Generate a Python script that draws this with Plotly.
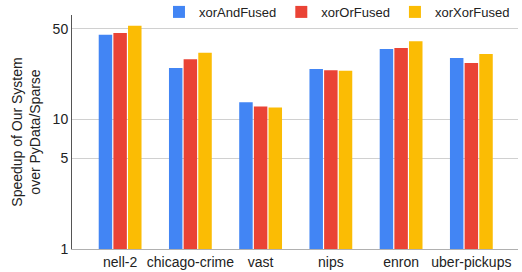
import plotly.graph_objects as go

categories = ["nell-2", "chicago-crime", "vast", "nips", "enron", "uber-pickups"]
xor_and_fused = [45.2, 25.0, 13.6, 24.5, 35.0, 29.8]
xor_or_fused = [46.6, 29.2, 12.6, 24.0, 35.7, 27.3]
xor_xor_fused = [53.0, 32.8, 12.4, 23.8, 40.2, 32.0]
series_names = ["xorAndFused", "xorOrFused", "xorXorFused"]
colors = ["#4285F4", "#EA4335", "#FBBC04"]
y_ticks = [1, 5, 10, 50]

fig = go.Figure()
for name, vals, c in zip(series_names, [xor_and_fused, xor_or_fused, xor_xor_fused], colors):
    fig.add_trace(go.Bar(x=categories, y=vals, name=name, marker=dict(color=c, line=dict(width=0))))

font = "Liberation Sans, Arial, sans-serif"
fig.update_layout(
    width=522, height=272,
    margin=dict(l=72, r=4, t=15, b=23, autoexpand=False),
    plot_bgcolor="white", paper_bgcolor="white",
    barmode="group", bargap=0.374, bargroupgap=0.08,
    font=dict(family=font, size=14, color="#222222"),
    legend=dict(orientation="h", x=0.195, xanchor="left", y=1.013, yanchor="middle",
                font=dict(size=13, color="#222222"), bgcolor="rgba(0,0,0,0)"),
    xaxis=dict(type="category", range=[-0.685, 5.664], showline=True, linecolor="#b0b0b0",
               linewidth=1, showgrid=False, ticks="", tickfont=dict(size=14), automargin=False),
    yaxis=dict(type="log", range=[0, 1.807], tickvals=y_ticks, ticktext=[str(v) for v in y_ticks],
               showgrid=True, gridcolor="#d0d0d0", gridwidth=1, showline=True, linecolor="#555555",
               linewidth=1, ticks="", tickfont=dict(size=14), automargin=False,
               title=dict(text="Speedup of Our System<br>over PyData/Sparse", font=dict(size=14), standoff=8)),
)
fig.write_html("out.html", config={"displayModeBar": False},
               post_script="document.body.style.margin='0';document.body.style.overflow='hidden';")
